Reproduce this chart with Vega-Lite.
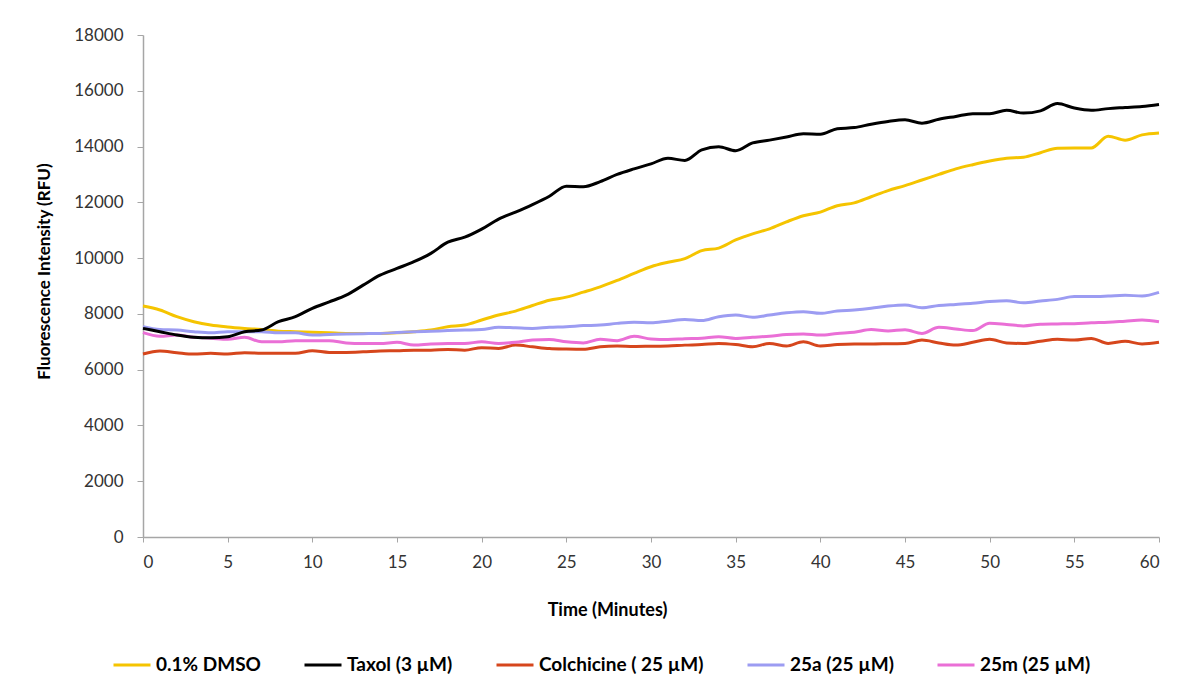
{
  "$schema": "https://vega.github.io/schema/vega-lite/v6.json",
  "autosize": "none",
  "width": 1016,
  "height": 502,
  "padding": {"left": 143, "top": 35, "right": 22, "bottom": 151},
  "background": "white",
  "config": {"view": {"stroke": null}, "font": "Lato"},
  "data": {"values": [
    {"t":0,"s":"0.1% DMSO","v":8280},{"t":1,"s":"0.1% DMSO","v":8140},{"t":2,"s":"0.1% DMSO","v":7900},{"t":3,"s":"0.1% DMSO","v":7720},{"t":4,"s":"0.1% DMSO","v":7600},{"t":5,"s":"0.1% DMSO","v":7530},{"t":6,"s":"0.1% DMSO","v":7480},{"t":7,"s":"0.1% DMSO","v":7440},{"t":8,"s":"0.1% DMSO","v":7380},{"t":9,"s":"0.1% DMSO","v":7360},{"t":10,"s":"0.1% DMSO","v":7340},{"t":11,"s":"0.1% DMSO","v":7320},{"t":12,"s":"0.1% DMSO","v":7300},{"t":13,"s":"0.1% DMSO","v":7300},{"t":14,"s":"0.1% DMSO","v":7300},{"t":15,"s":"0.1% DMSO","v":7320},{"t":16,"s":"0.1% DMSO","v":7360},{"t":17,"s":"0.1% DMSO","v":7420},{"t":18,"s":"0.1% DMSO","v":7540},{"t":19,"s":"0.1% DMSO","v":7600},{"t":20,"s":"0.1% DMSO","v":7780},{"t":21,"s":"0.1% DMSO","v":7960},{"t":22,"s":"0.1% DMSO","v":8100},{"t":23,"s":"0.1% DMSO","v":8300},{"t":24,"s":"0.1% DMSO","v":8490},{"t":25,"s":"0.1% DMSO","v":8600},{"t":26,"s":"0.1% DMSO","v":8780},{"t":27,"s":"0.1% DMSO","v":8970},{"t":28,"s":"0.1% DMSO","v":9200},{"t":29,"s":"0.1% DMSO","v":9450},{"t":30,"s":"0.1% DMSO","v":9690},{"t":31,"s":"0.1% DMSO","v":9850},{"t":32,"s":"0.1% DMSO","v":9980},{"t":33,"s":"0.1% DMSO","v":10270},{"t":34,"s":"0.1% DMSO","v":10360},{"t":35,"s":"0.1% DMSO","v":10650},{"t":36,"s":"0.1% DMSO","v":10870},{"t":37,"s":"0.1% DMSO","v":11050},{"t":38,"s":"0.1% DMSO","v":11300},{"t":39,"s":"0.1% DMSO","v":11520},{"t":40,"s":"0.1% DMSO","v":11650},{"t":41,"s":"0.1% DMSO","v":11880},{"t":42,"s":"0.1% DMSO","v":11980},{"t":43,"s":"0.1% DMSO","v":12200},{"t":44,"s":"0.1% DMSO","v":12420},{"t":45,"s":"0.1% DMSO","v":12600},{"t":46,"s":"0.1% DMSO","v":12800},{"t":47,"s":"0.1% DMSO","v":13000},{"t":48,"s":"0.1% DMSO","v":13200},{"t":49,"s":"0.1% DMSO","v":13350},{"t":50,"s":"0.1% DMSO","v":13480},{"t":51,"s":"0.1% DMSO","v":13580},{"t":52,"s":"0.1% DMSO","v":13620},{"t":53,"s":"0.1% DMSO","v":13780},{"t":54,"s":"0.1% DMSO","v":13940},{"t":55,"s":"0.1% DMSO","v":13950},{"t":56,"s":"0.1% DMSO","v":13950},{"t":57,"s":"0.1% DMSO","v":14370},{"t":58,"s":"0.1% DMSO","v":14230},{"t":59,"s":"0.1% DMSO","v":14420},{"t":60,"s":"0.1% DMSO","v":14490},
    {"t":0,"s":"Colchicine ( 25 µM)","v":6560},{"t":1,"s":"Colchicine ( 25 µM)","v":6670},{"t":2,"s":"Colchicine ( 25 µM)","v":6610},{"t":3,"s":"Colchicine ( 25 µM)","v":6560},{"t":4,"s":"Colchicine ( 25 µM)","v":6590},{"t":5,"s":"Colchicine ( 25 µM)","v":6560},{"t":6,"s":"Colchicine ( 25 µM)","v":6610},{"t":7,"s":"Colchicine ( 25 µM)","v":6590},{"t":8,"s":"Colchicine ( 25 µM)","v":6590},{"t":9,"s":"Colchicine ( 25 µM)","v":6590},{"t":10,"s":"Colchicine ( 25 µM)","v":6680},{"t":11,"s":"Colchicine ( 25 µM)","v":6620},{"t":12,"s":"Colchicine ( 25 µM)","v":6620},{"t":13,"s":"Colchicine ( 25 µM)","v":6640},{"t":14,"s":"Colchicine ( 25 µM)","v":6670},{"t":15,"s":"Colchicine ( 25 µM)","v":6680},{"t":16,"s":"Colchicine ( 25 µM)","v":6700},{"t":17,"s":"Colchicine ( 25 µM)","v":6700},{"t":18,"s":"Colchicine ( 25 µM)","v":6720},{"t":19,"s":"Colchicine ( 25 µM)","v":6700},{"t":20,"s":"Colchicine ( 25 µM)","v":6790},{"t":21,"s":"Colchicine ( 25 µM)","v":6760},{"t":22,"s":"Colchicine ( 25 µM)","v":6880},{"t":23,"s":"Colchicine ( 25 µM)","v":6820},{"t":24,"s":"Colchicine ( 25 µM)","v":6760},{"t":25,"s":"Colchicine ( 25 µM)","v":6740},{"t":26,"s":"Colchicine ( 25 µM)","v":6730},{"t":27,"s":"Colchicine ( 25 µM)","v":6820},{"t":28,"s":"Colchicine ( 25 µM)","v":6850},{"t":29,"s":"Colchicine ( 25 µM)","v":6830},{"t":30,"s":"Colchicine ( 25 µM)","v":6840},{"t":31,"s":"Colchicine ( 25 µM)","v":6850},{"t":32,"s":"Colchicine ( 25 µM)","v":6880},{"t":33,"s":"Colchicine ( 25 µM)","v":6900},{"t":34,"s":"Colchicine ( 25 µM)","v":6940},{"t":35,"s":"Colchicine ( 25 µM)","v":6900},{"t":36,"s":"Colchicine ( 25 µM)","v":6820},{"t":37,"s":"Colchicine ( 25 µM)","v":6940},{"t":38,"s":"Colchicine ( 25 µM)","v":6850},{"t":39,"s":"Colchicine ( 25 µM)","v":7000},{"t":40,"s":"Colchicine ( 25 µM)","v":6850},{"t":41,"s":"Colchicine ( 25 µM)","v":6900},{"t":42,"s":"Colchicine ( 25 µM)","v":6920},{"t":43,"s":"Colchicine ( 25 µM)","v":6920},{"t":44,"s":"Colchicine ( 25 µM)","v":6930},{"t":45,"s":"Colchicine ( 25 µM)","v":6940},{"t":46,"s":"Colchicine ( 25 µM)","v":7060},{"t":47,"s":"Colchicine ( 25 µM)","v":6960},{"t":48,"s":"Colchicine ( 25 µM)","v":6880},{"t":49,"s":"Colchicine ( 25 µM)","v":6980},{"t":50,"s":"Colchicine ( 25 µM)","v":7090},{"t":51,"s":"Colchicine ( 25 µM)","v":6960},{"t":52,"s":"Colchicine ( 25 µM)","v":6940},{"t":53,"s":"Colchicine ( 25 µM)","v":7020},{"t":54,"s":"Colchicine ( 25 µM)","v":7090},{"t":55,"s":"Colchicine ( 25 µM)","v":7060},{"t":56,"s":"Colchicine ( 25 µM)","v":7120},{"t":57,"s":"Colchicine ( 25 µM)","v":6940},{"t":58,"s":"Colchicine ( 25 µM)","v":7020},{"t":59,"s":"Colchicine ( 25 µM)","v":6920},{"t":60,"s":"Colchicine ( 25 µM)","v":6980},
    {"t":0,"s":"25a (25 µM)","v":7540},{"t":1,"s":"25a (25 µM)","v":7440},{"t":2,"s":"25a (25 µM)","v":7420},{"t":3,"s":"25a (25 µM)","v":7360},{"t":4,"s":"25a (25 µM)","v":7320},{"t":5,"s":"25a (25 µM)","v":7360},{"t":6,"s":"25a (25 µM)","v":7360},{"t":7,"s":"25a (25 µM)","v":7360},{"t":8,"s":"25a (25 µM)","v":7320},{"t":9,"s":"25a (25 µM)","v":7320},{"t":10,"s":"25a (25 µM)","v":7240},{"t":11,"s":"25a (25 µM)","v":7260},{"t":12,"s":"25a (25 µM)","v":7280},{"t":13,"s":"25a (25 µM)","v":7290},{"t":14,"s":"25a (25 µM)","v":7300},{"t":15,"s":"25a (25 µM)","v":7330},{"t":16,"s":"25a (25 µM)","v":7360},{"t":17,"s":"25a (25 µM)","v":7380},{"t":18,"s":"25a (25 µM)","v":7400},{"t":19,"s":"25a (25 µM)","v":7420},{"t":20,"s":"25a (25 µM)","v":7440},{"t":21,"s":"25a (25 µM)","v":7520},{"t":22,"s":"25a (25 µM)","v":7500},{"t":23,"s":"25a (25 µM)","v":7480},{"t":24,"s":"25a (25 µM)","v":7520},{"t":25,"s":"25a (25 µM)","v":7540},{"t":26,"s":"25a (25 µM)","v":7580},{"t":27,"s":"25a (25 µM)","v":7600},{"t":28,"s":"25a (25 µM)","v":7660},{"t":29,"s":"25a (25 µM)","v":7700},{"t":30,"s":"25a (25 µM)","v":7680},{"t":31,"s":"25a (25 µM)","v":7740},{"t":32,"s":"25a (25 µM)","v":7800},{"t":33,"s":"25a (25 µM)","v":7760},{"t":34,"s":"25a (25 µM)","v":7900},{"t":35,"s":"25a (25 µM)","v":7960},{"t":36,"s":"25a (25 µM)","v":7880},{"t":37,"s":"25a (25 µM)","v":7960},{"t":38,"s":"25a (25 µM)","v":8040},{"t":39,"s":"25a (25 µM)","v":8080},{"t":40,"s":"25a (25 µM)","v":8020},{"t":41,"s":"25a (25 µM)","v":8100},{"t":42,"s":"25a (25 µM)","v":8140},{"t":43,"s":"25a (25 µM)","v":8200},{"t":44,"s":"25a (25 µM)","v":8280},{"t":45,"s":"25a (25 µM)","v":8320},{"t":46,"s":"25a (25 µM)","v":8220},{"t":47,"s":"25a (25 µM)","v":8300},{"t":48,"s":"25a (25 µM)","v":8340},{"t":49,"s":"25a (25 µM)","v":8380},{"t":50,"s":"25a (25 µM)","v":8440},{"t":51,"s":"25a (25 µM)","v":8470},{"t":52,"s":"25a (25 µM)","v":8400},{"t":53,"s":"25a (25 µM)","v":8460},{"t":54,"s":"25a (25 µM)","v":8520},{"t":55,"s":"25a (25 µM)","v":8620},{"t":56,"s":"25a (25 µM)","v":8620},{"t":57,"s":"25a (25 µM)","v":8640},{"t":58,"s":"25a (25 µM)","v":8670},{"t":59,"s":"25a (25 µM)","v":8640},{"t":60,"s":"25a (25 µM)","v":8770},
    {"t":0,"s":"25m (25 µM)","v":7330},{"t":1,"s":"25m (25 µM)","v":7200},{"t":2,"s":"25m (25 µM)","v":7240},{"t":3,"s":"25m (25 µM)","v":7160},{"t":4,"s":"25m (25 µM)","v":7130},{"t":5,"s":"25m (25 µM)","v":7090},{"t":6,"s":"25m (25 µM)","v":7160},{"t":7,"s":"25m (25 µM)","v":7000},{"t":8,"s":"25m (25 µM)","v":7000},{"t":9,"s":"25m (25 µM)","v":7040},{"t":10,"s":"25m (25 µM)","v":7040},{"t":11,"s":"25m (25 µM)","v":7040},{"t":12,"s":"25m (25 µM)","v":6960},{"t":13,"s":"25m (25 µM)","v":6940},{"t":14,"s":"25m (25 µM)","v":6940},{"t":15,"s":"25m (25 µM)","v":6980},{"t":16,"s":"25m (25 µM)","v":6880},{"t":17,"s":"25m (25 µM)","v":6920},{"t":18,"s":"25m (25 µM)","v":6940},{"t":19,"s":"25m (25 µM)","v":6940},{"t":20,"s":"25m (25 µM)","v":7000},{"t":21,"s":"25m (25 µM)","v":6940},{"t":22,"s":"25m (25 µM)","v":6980},{"t":23,"s":"25m (25 µM)","v":7060},{"t":24,"s":"25m (25 µM)","v":7080},{"t":25,"s":"25m (25 µM)","v":7000},{"t":26,"s":"25m (25 µM)","v":6960},{"t":27,"s":"25m (25 µM)","v":7090},{"t":28,"s":"25m (25 µM)","v":7040},{"t":29,"s":"25m (25 µM)","v":7200},{"t":30,"s":"25m (25 µM)","v":7100},{"t":31,"s":"25m (25 µM)","v":7080},{"t":32,"s":"25m (25 µM)","v":7110},{"t":33,"s":"25m (25 µM)","v":7130},{"t":34,"s":"25m (25 µM)","v":7180},{"t":35,"s":"25m (25 µM)","v":7120},{"t":36,"s":"25m (25 µM)","v":7160},{"t":37,"s":"25m (25 µM)","v":7200},{"t":38,"s":"25m (25 µM)","v":7260},{"t":39,"s":"25m (25 µM)","v":7280},{"t":40,"s":"25m (25 µM)","v":7240},{"t":41,"s":"25m (25 µM)","v":7300},{"t":42,"s":"25m (25 µM)","v":7340},{"t":43,"s":"25m (25 µM)","v":7440},{"t":44,"s":"25m (25 µM)","v":7390},{"t":45,"s":"25m (25 µM)","v":7430},{"t":46,"s":"25m (25 µM)","v":7300},{"t":47,"s":"25m (25 µM)","v":7520},{"t":48,"s":"25m (25 µM)","v":7460},{"t":49,"s":"25m (25 µM)","v":7400},{"t":50,"s":"25m (25 µM)","v":7660},{"t":51,"s":"25m (25 µM)","v":7620},{"t":52,"s":"25m (25 µM)","v":7570},{"t":53,"s":"25m (25 µM)","v":7630},{"t":54,"s":"25m (25 µM)","v":7640},{"t":55,"s":"25m (25 µM)","v":7650},{"t":56,"s":"25m (25 µM)","v":7680},{"t":57,"s":"25m (25 µM)","v":7700},{"t":58,"s":"25m (25 µM)","v":7740},{"t":59,"s":"25m (25 µM)","v":7780},{"t":60,"s":"25m (25 µM)","v":7720},
    {"t":0,"s":"Taxol (3 µM)","v":7480},{"t":1,"s":"Taxol (3 µM)","v":7360},{"t":2,"s":"Taxol (3 µM)","v":7240},{"t":3,"s":"Taxol (3 µM)","v":7160},{"t":4,"s":"Taxol (3 µM)","v":7140},{"t":5,"s":"Taxol (3 µM)","v":7180},{"t":6,"s":"Taxol (3 µM)","v":7360},{"t":7,"s":"Taxol (3 µM)","v":7420},{"t":8,"s":"Taxol (3 µM)","v":7720},{"t":9,"s":"Taxol (3 µM)","v":7900},{"t":10,"s":"Taxol (3 µM)","v":8200},{"t":11,"s":"Taxol (3 µM)","v":8430},{"t":12,"s":"Taxol (3 µM)","v":8670},{"t":13,"s":"Taxol (3 µM)","v":9030},{"t":14,"s":"Taxol (3 µM)","v":9390},{"t":15,"s":"Taxol (3 µM)","v":9630},{"t":16,"s":"Taxol (3 µM)","v":9870},{"t":17,"s":"Taxol (3 µM)","v":10170},{"t":18,"s":"Taxol (3 µM)","v":10570},{"t":19,"s":"Taxol (3 µM)","v":10750},{"t":20,"s":"Taxol (3 µM)","v":11040},{"t":21,"s":"Taxol (3 µM)","v":11400},{"t":22,"s":"Taxol (3 µM)","v":11650},{"t":23,"s":"Taxol (3 µM)","v":11920},{"t":24,"s":"Taxol (3 µM)","v":12220},{"t":25,"s":"Taxol (3 µM)","v":12580},{"t":26,"s":"Taxol (3 µM)","v":12560},{"t":27,"s":"Taxol (3 µM)","v":12740},{"t":28,"s":"Taxol (3 µM)","v":13000},{"t":29,"s":"Taxol (3 µM)","v":13200},{"t":30,"s":"Taxol (3 µM)","v":13380},{"t":31,"s":"Taxol (3 µM)","v":13580},{"t":32,"s":"Taxol (3 µM)","v":13500},{"t":33,"s":"Taxol (3 µM)","v":13880},{"t":34,"s":"Taxol (3 µM)","v":13990},{"t":35,"s":"Taxol (3 µM)","v":13850},{"t":36,"s":"Taxol (3 µM)","v":14130},{"t":37,"s":"Taxol (3 µM)","v":14230},{"t":38,"s":"Taxol (3 µM)","v":14340},{"t":39,"s":"Taxol (3 µM)","v":14460},{"t":40,"s":"Taxol (3 µM)","v":14440},{"t":41,"s":"Taxol (3 µM)","v":14640},{"t":42,"s":"Taxol (3 µM)","v":14680},{"t":43,"s":"Taxol (3 µM)","v":14800},{"t":44,"s":"Taxol (3 µM)","v":14900},{"t":45,"s":"Taxol (3 µM)","v":14960},{"t":46,"s":"Taxol (3 µM)","v":14840},{"t":47,"s":"Taxol (3 µM)","v":14980},{"t":48,"s":"Taxol (3 µM)","v":15080},{"t":49,"s":"Taxol (3 µM)","v":15180},{"t":50,"s":"Taxol (3 µM)","v":15180},{"t":51,"s":"Taxol (3 µM)","v":15300},{"t":52,"s":"Taxol (3 µM)","v":15200},{"t":53,"s":"Taxol (3 µM)","v":15280},{"t":54,"s":"Taxol (3 µM)","v":15540},{"t":55,"s":"Taxol (3 µM)","v":15380},{"t":56,"s":"Taxol (3 µM)","v":15300},{"t":57,"s":"Taxol (3 µM)","v":15360},{"t":58,"s":"Taxol (3 µM)","v":15400},{"t":59,"s":"Taxol (3 µM)","v":15440},{"t":60,"s":"Taxol (3 µM)","v":15510}
  ]},
  "mark": {"type": "line", "strokeWidth": 3, "interpolate": "monotone"},
  "encoding": {
    "x": {
      "field": "t", "type": "quantitative",
      "scale": {"domain": [0, 60], "nice": false, "zero": false},
      "axis": {
        "title": "Time (Minutes)", "values": [0,5,10,15,20,25,30,35,40,45,50,55,60],
        "grid": false, "domainColor": "#a6a6a6", "domainWidth": 1.5, "tickColor": "#a6a6a6", "tickSize": 5,
        "labelFont": "Lato", "labelFontSize": 17, "labelColor": "#333333", "labelPadding": 12,
        "titleFont": "Lato", "titleFontSize": 18, "titleFontWeight": "bold", "titleColor": "#000000", "titlePadding": 31, "titleX": 464
      }
    },
    "y": {
      "field": "v", "type": "quantitative",
      "scale": {"domain": [0, 18000], "nice": false},
      "axis": {
        "title": "Fluorescence Intensity (RFU)", "values": [0,2000,4000,6000,8000,10000,12000,14000,16000,18000],
        "format": "d", "grid": false, "domainColor": "#a6a6a6", "domainWidth": 1.5, "tickColor": "#a6a6a6", "tickSize": 6,
        "labelFont": "Lato", "labelFontSize": 17, "labelColor": "#333333", "labelPadding": 14,
        "titleFont": "Lato", "titleFontSize": 17, "titleFontWeight": "bold", "titleColor": "#000000", "titlePadding": 20, "titleY": 236
      }
    },
    "color": {
      "field": "s", "type": "nominal",
      "scale": {
        "domain": ["0.1% DMSO", "Taxol (3 µM)", "Colchicine ( 25 µM)", "25a (25 µM)", "25m (25 µM)"],
        "range": ["#F5C400", "#000000", "#D6461C", "#9C9CF2", "#EA6FD6"]
      },
      "legend": {
        "title": null, "orient": "none", "direction": "horizontal", "legendX": -31, "legendY": 610,
        "symbolType": "stroke", "symbolSize": 1369, "symbolStrokeWidth": 3, "labelOffset": 4,
        "labelFont": "Lato", "labelFontSize": 19, "labelFontWeight": "bold", "labelColor": "#000000",
        "columnPadding": 37, "labelLimit": 300
      }
    },
    "order": {"field": "t", "type": "quantitative"}
  }
}
